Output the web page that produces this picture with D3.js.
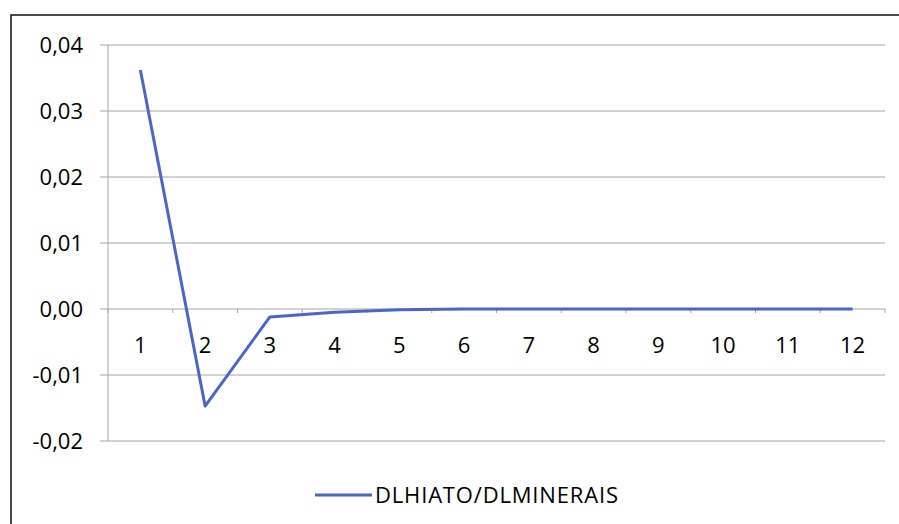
<!DOCTYPE html>
<html><head><meta charset="utf-8">
<script src="https://cdn.jsdelivr.net/npm/d3@7"></script>
<style>body{margin:0;background:#fff}svg{display:block}</style>
</head><body>
<svg id="c" width="899" height="524"></svg>
<script>
const categories = ["1","2","3","4","5","6","7","8","9","10","11","12"];
const values = [0.0362, -0.0147, -0.0012, -0.0005, -0.0001, 0, 0, 0, 0, 0, 0, 0];
const yTicks = [-0.02, -0.01, 0, 0.01, 0.02, 0.03, 0.04];
const seriesName = "DLHIATO/DLMINERAIS";

const svg = d3.select("#c");
const font = "'Open Sans', sans-serif";
const fs = 22;
const lineColor = "#4a66c8";

// frame
svg.append("rect").attr("x", 11).attr("y", 15).attr("width", 1000).attr("height", 600)
  .attr("fill", "none").attr("stroke", "#111").attr("stroke-width", 1.5);

const x = d3.scaleBand().domain(categories).range([108, 885]);
const y = d3.scaleLinear().domain([-0.02, 0.04]).range([441, 45]);

// gridlines
svg.append("g").selectAll("line").data(yTicks).join("line")
  .attr("x1", 100).attr("x2", 885)
  .attr("y1", d => y(d)).attr("y2", d => y(d))
  .attr("stroke", "#a6a6a6").attr("stroke-width", 1);

// y axis line
svg.append("line").attr("x1", 108).attr("x2", 108).attr("y1", y(0.04)).attr("y2", y(-0.02))
  .attr("stroke", "#a6a6a6");

// y labels
const fmt = d => d3.format(".2f")(d).replace(".", ",").replace("−", "-");
svg.append("g").selectAll("text").data(yTicks).join("text")
  .attr("x", 83).attr("y", d => y(d)).attr("dy", "0.35em")
  .attr("text-anchor", "end").attr("font-family", font).attr("font-size", fs)
  .attr("fill", "#000").text(fmt);

// x ticks on zero line
const bounds = categories.map(c => x(c)).concat([x.range()[1]]);
svg.append("g").selectAll("line").data(bounds).join("line")
  .attr("x1", d => d).attr("x2", d => d).attr("y1", y(0)).attr("y2", y(0) + 4)
  .attr("stroke", "#a6a6a6");

// x labels
svg.append("g").selectAll("text").data(categories).join("text")
  .attr("x", d => x(d) + x.bandwidth() / 2).attr("y", y(0) + 36)
  .attr("dy", "0.35em")
  .attr("text-anchor", "middle").attr("font-family", font).attr("font-size", fs)
  .attr("fill", "#000").text(d => d);

// line
const line = d3.line().x((d, i) => x(categories[i]) + x.bandwidth() / 2).y(d => y(d));
svg.append("path").datum(values).attr("d", line)
  .attr("fill", "none").attr("stroke", lineColor).attr("stroke-width", 3)
  .attr("stroke-linejoin", "round");

// legend
svg.append("line").attr("x1", 315).attr("x2", 372).attr("y1", 495).attr("y2", 495)
  .attr("stroke", lineColor).attr("stroke-width", 3);
svg.append("text").attr("x", 375).attr("y", 495).attr("dy", "0.35em")
  .attr("font-family", font).attr("font-size", fs).attr("fill", "#000")
  .attr("textLength", 243).attr("lengthAdjust", "spacing").text(seriesName);
</script>
</body></html>
